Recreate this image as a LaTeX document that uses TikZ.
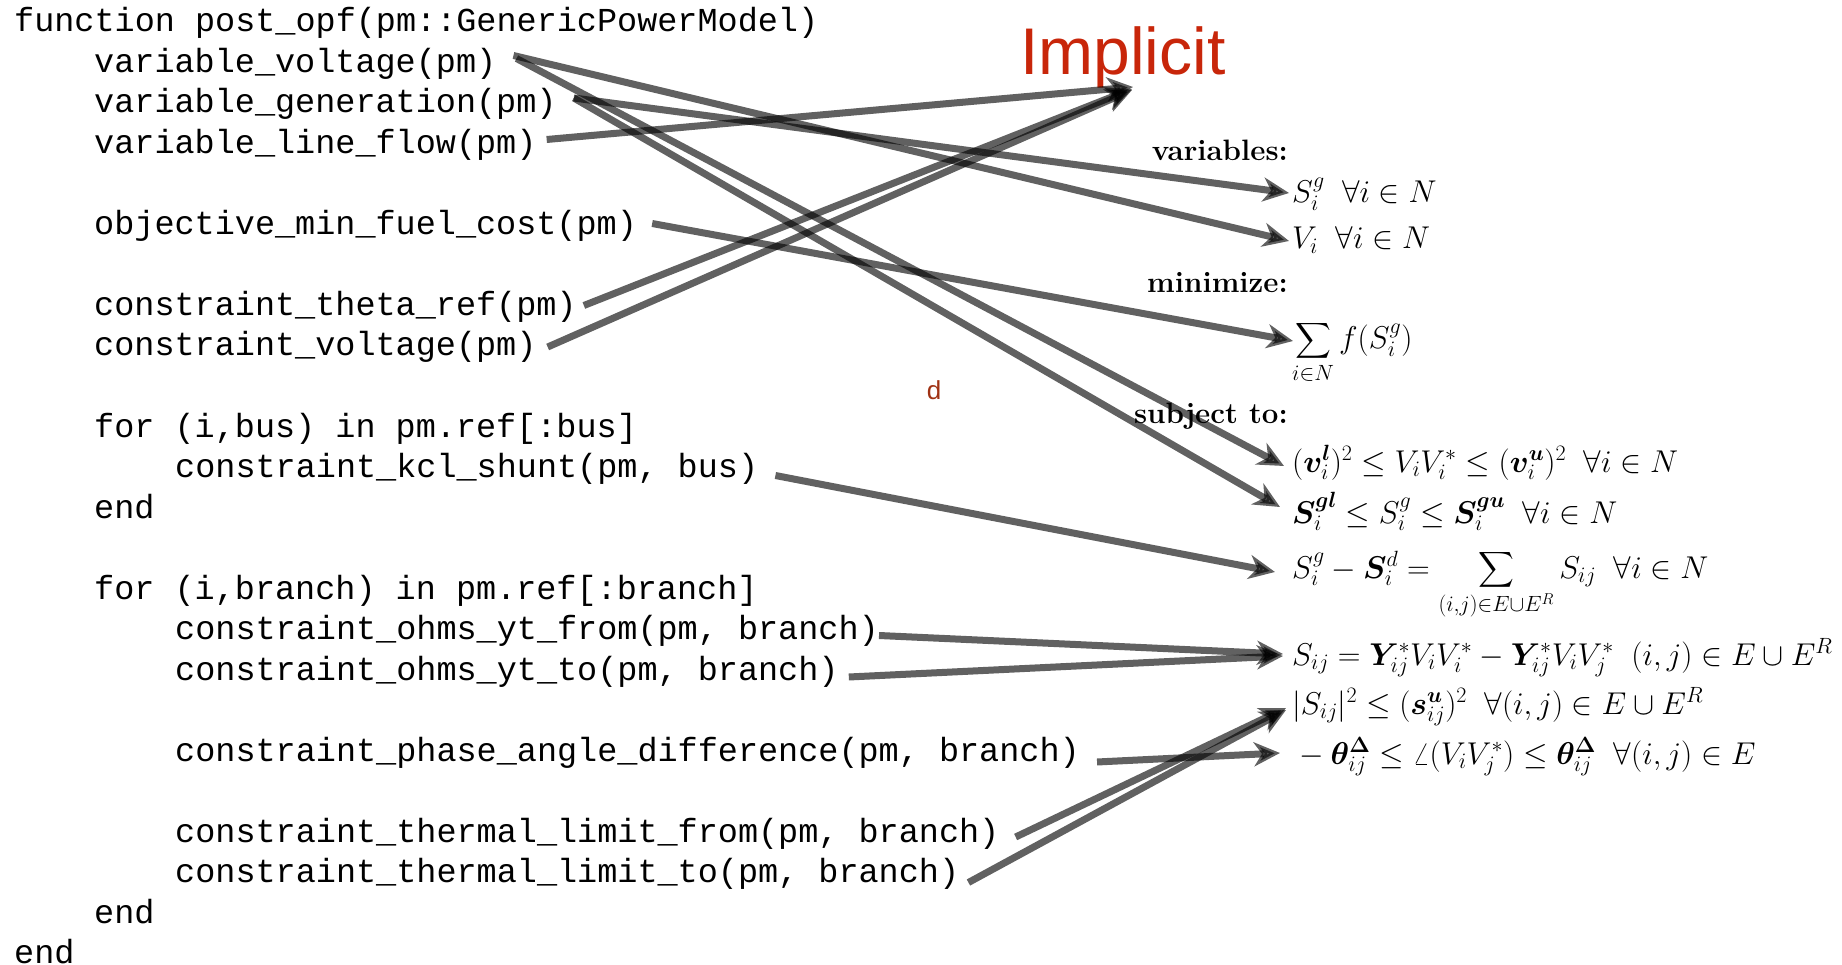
\RequirePackage{fix-cm}
\documentclass[tikz,border=0pt]{standalone}
\usepackage{amsmath}
\usepackage{bm}
\usepackage{fontspec}
\newfontfamily\codefont{Liberation Mono}
\newfontfamily\slidefont{Liberation Sans}
\usetikzlibrary{arrows.meta}
\definecolor{implicitred}{RGB}{200,38,10}
\definecolor{dbrown}{RGB}{160,50,20}
\tikzset{
  code/.style={anchor=base west, inner sep=0pt, font=\codefont\fontsize{33.5}{40}\selectfont},
  eq/.style={anchor=base west, inner sep=0pt, font=\fontsize{31.5}{38}\selectfont},
  head/.style={anchor=base east, inner sep=0pt, font=\fontsize{29.5}{35}\selectfont\bfseries},
  link/.style={line width=7pt, black, opacity=0.62, -{Stealth[length=26pt,width=24pt,inset=8pt]}}
}
\begin{document}
\begin{tikzpicture}[x=1pt, y=-1pt]
    \useasboundingbox (0,0) rectangle (1842,965);
    % code
    \node[code] (fn) at (14,32) {function post\_opf(pm::GenericPowerModel)};
    \node[code] (vv) at (94,72.5) {variable\_voltage(pm)};
    \node[code] (vg) at (94,113) {variable\_generation(pm)};
    \node[code] (vlf) at (94,153.5) {variable\_line\_flow(pm)};
    \node[code] (obj) at (94,234.5) {objective\_min\_fuel\_cost(pm)};
    \node[code] (thref) at (94,315.5) {constraint\_theta\_ref(pm)};
    \node[code] (cvolt) at (94,356) {constraint\_voltage(pm)};
    \node[code] (forbus) at (94,437) {for (i,bus) in pm.ref[:bus]};
    \node[code] (kcl) at (175,477.5) {constraint\_kcl\_shunt(pm, bus)};
    \node[code] (endbus) at (94,518) {end};
    \node[code] (forbr) at (94,599) {for (i,branch) in pm.ref[:branch]};
    \node[code] (ohmsf) at (175,639.5) {constraint\_ohms\_yt\_from(pm, branch)};
    \node[code] (ohmst) at (175,680) {constraint\_ohms\_yt\_to(pm, branch)};
    \node[code] (phase) at (175,761) {constraint\_phase\_angle\_difference(pm, branch)};
    \node[code] (thf) at (175,842) {constraint\_thermal\_limit\_from(pm, branch)};
    \node[code] (tht) at (175,882.5) {constraint\_thermal\_limit\_to(pm, branch)};
    \node[code] (endbr) at (94,923) {end};
    \node[code] (endfn) at (14,963.5) {end};

    % model
    \node[anchor=base west, inner sep=0pt, text=implicitred, font=\slidefont\fontsize{66}{70}\selectfont] (implicit) at (1020,75) {Implicit};
    \node[text=dbrown, font=\slidefont\fontsize{26}{30}\selectfont] (dmark) at (934,390) {d};
    \node[head] (lblvar) at (1288,161) {variables:};
    \node[eq] (sg) at (1292,203) {$S_i^g \;\; \forall i \in N$};
    \node[eq] (vi) at (1292,249) {$V_i \;\; \forall i \in N$};
    \node[head] (lblmin) at (1288,293) {minimize:};
    \node[eq] (cost) at (1292,349) {$\displaystyle\sum_{i\in N} f(S_i^g)$};
    \node[head] (lblsub) at (1288,424) {subject to:};
    \node[eq] (vbnd) at (1292,472) {$(\bm{v}_i^{\bm{l}})^2 \le V_i V_i^* \le (\bm{v}_i^{\bm{u}})^2 \;\; \forall i \in N$};
    \node[eq] (sgbnd) at (1292,523) {$\bm{S}_i^{\bm{gl}} \le S_i^g \le \bm{S}_i^{\bm{gu}} \;\; \forall i \in N$};
    \node[eq] (kcleq) at (1292,578) {$S_i^g - \bm{S}_i^d = \displaystyle\sum_{(i,j)\in E\cup E^R} S_{ij} \;\; \forall i \in N$};
    \node[eq] (ohmeq) at (1292,665) {$S_{ij} = \bm{Y}_{ij}^* V_i V_i^* - \bm{Y}_{ij}^* V_i V_j^* \;\; (i,j) \in E \cup E^R$};
    \node[eq] (thermeq) at (1292,714) {$|S_{ij}|^2 \le (\bm{s}_{ij}^{\bm{u}})^2 \;\; \forall (i,j) \in E \cup E^R$};
    \node[eq] (angeq) at (1292,764) {${}-\bm{\theta}_{ij}^{\bm{\Delta}} \le \angle(V_i V_j^*) \le \bm{\theta}_{ij}^{\bm{\Delta}} \;\; \forall (i,j) \in E$};

    % links
    \draw[link] ([xshift=17pt,yshift=17pt]vv.base east) -- ([xshift=-3pt,yshift=8pt]vi.base west);
    \draw[link] ([xshift=20pt,yshift=14pt]vv.base east) -- ([xshift=-8pt,yshift=6pt]vbnd.base west);
    \draw[link] ([xshift=17pt,yshift=15pt]vg.base east) -- ([xshift=-3pt,yshift=10pt]sg.base west);
    \draw[link] ([xshift=17pt,yshift=15pt]vg.base east) -- ([xshift=-12pt,yshift=16pt]sgbnd.base west);
    \draw[link] ([xshift=10pt,yshift=14pt]vlf.base east) -- ([xshift=113pt,yshift=-12pt]implicit.base west);
    \draw[link] ([xshift=15pt,yshift=11pt]obj.base east) -- ([xshift=1pt,yshift=8pt]cost.base west);
    \draw[link] ([xshift=7pt,yshift=10pt]thref.base east) -- ([xshift=112pt,yshift=-14pt]implicit.base west);
    \draw[link] ([xshift=11pt,yshift=9pt]cvolt.base east) -- ([xshift=112pt,yshift=-15pt]implicit.base west);
    \draw[link] ([xshift=17pt,yshift=2pt]kcl.base east) -- ([xshift=-17pt,yshift=6pt]kcleq.base west);
    \draw[link] ([yshift=4pt]ohmsf.base east) -- ([xshift=-9pt,yshift=11pt]ohmeq.base west);
    \draw[link] ([xshift=10pt,yshift=3pt]ohmst.base east) -- ([xshift=-9pt,yshift=9pt]ohmeq.base west);
    \draw[link] ([xshift=17pt,yshift=-1pt]phase.base east) -- ([xshift=-12pt,yshift=11pt]angeq.base west);
    \draw[link] ([xshift=16pt,yshift=5pt]thf.base east) -- ([xshift=-6pt,yshift=6pt]thermeq.base west);
    \draw[link] ([xshift=9pt]tht.base east) -- ([xshift=-6pt,yshift=4pt]thermeq.base west);
\end{tikzpicture}
\end{document}
